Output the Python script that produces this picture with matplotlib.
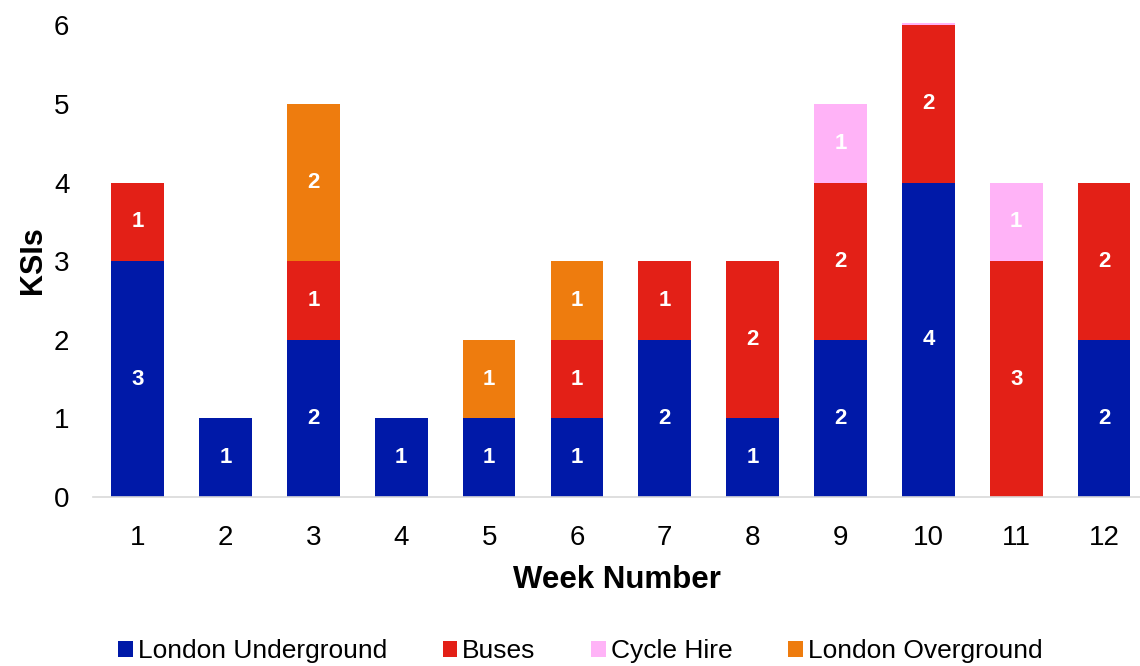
import matplotlib.pyplot as plt
import numpy as np

plt.rcParams['font.family'] = ['Liberation Sans', 'DejaVu Sans']

weeks = list(range(1, 13))
underground = [3, 1, 2, 1, 1, 1, 2, 1, 2, 4, 0, 2]
buses = [1, 0, 1, 0, 0, 1, 1, 2, 2, 2, 3, 2]
cycle_hire = [0, 0, 0, 0, 0, 0, 0, 0, 1, 1, 1, 0]
overground = [0, 0, 2, 0, 1, 1, 0, 0, 0, 0, 0, 0]

series = [
    ("London Underground", underground, "#0019A8"),
    ("Buses", buses, "#E32017"),
    ("Cycle Hire", cycle_hire, "#FFB3F7"),
    ("London Overground", overground, "#EE7C0E"),
]

fig = plt.figure(figsize=(11.4, 6.66), dpi=100)
ax = fig.add_axes([93 / 1140, 169 / 666, 1 - 93 / 1140, (497 - 23) / 666])

ymax = 6.03
x = np.array(weeks)
bottom = np.zeros(len(weeks))
for name, vals, color in series:
    vals = np.array(vals, dtype=float)
    ax.bar(x, vals, 0.6, bottom=bottom, color=color, label=name, zorder=2)
    for xi, b, v in zip(x, bottom, vals):
        mid = b + v / 2
        if v > 0 and mid < ymax:
            ax.text(xi, mid, f"{int(v)}", ha="center", va="center",
                    color="white", fontsize=16, fontweight="bold", zorder=3)
    bottom += vals

ax.set_xlim(0.49, 12.41)
ax.set_ylim(0, ymax)
ax.set_xticks(weeks)
ax.set_yticks(range(0, 7))
ax.tick_params(axis="both", length=0, labelsize=20)
ax.tick_params(axis="x", pad=20)
ax.tick_params(axis="y", pad=17)
for side in ("top", "right", "left"):
    ax.spines[side].set_visible(False)
ax.spines["bottom"].set_color("#d9d9d9")
ax.spines["bottom"].set_linewidth(1.2)

ax.set_xlabel("Week Number", fontsize=22.5, fontweight="bold", labelpad=10)
ax.set_ylabel("KSIs", fontsize=22, fontweight="bold", labelpad=4)

fig.legend(loc="lower center", bbox_to_anchor=(0.509, -0.031), ncol=4,
           frameon=False, fontsize=19, handlelength=0.55, handleheight=0.55,
           handletextpad=0.2, columnspacing=2.1)

fig.savefig("out.png", dpi=100)
